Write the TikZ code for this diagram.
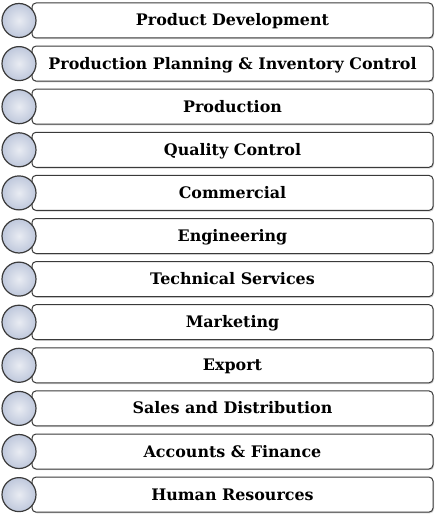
\documentclass[tikz,border=0pt]{standalone}
\usepackage{fontspec}
\setmainfont{DejaVu Serif}
\usepackage{tikz}
\usetikzlibrary{calc,positioning,shadows}

\definecolor{ballblue}{HTML}{BFC8DC}
\definecolor{edgegray}{HTML}{3A3A3A}

\begin{document}
\begin{tikzpicture}[
            x=1pt,y=-1pt,
            every node/.append style={black},
            deptbox/.style={draw=edgegray,line width=1pt,fill=white,rounded corners=4pt,
                minimum width=401pt,minimum height=35pt,inner sep=0pt,
                text height=11pt,text depth=0pt,
                font=\bfseries\fontsize{15.9}{18}\selectfont,
                drop shadow={shadow xshift=1pt,shadow yshift=-1.2pt,opacity=.35}},
            ball/.style={circle,draw=edgegray,line width=1.2pt,minimum size=34pt,inner sep=0pt,
                inner color=ballblue!35,outer color=ballblue}
        ]
            \useasboundingbox (0,0) rectangle (439,519);

            \foreach \name [count=\i] in {Product Development,
                    Production Planning \& Inventory Control,Production,Quality Control,
                    Commercial,Engineering,Technical Services,Marketing,Export,
                    Sales and Distribution,Accounts \& Finance,Human Resources}{
                \pgfmathsetmacro{\yy}{20.5+43.1*(\i-1)}
                \node[deptbox] (dept\i) at (232.5,\yy) {\name};
                \node[ball] (ball\i) at (19,\yy) {};
            }
        \end{tikzpicture}
\end{document}
